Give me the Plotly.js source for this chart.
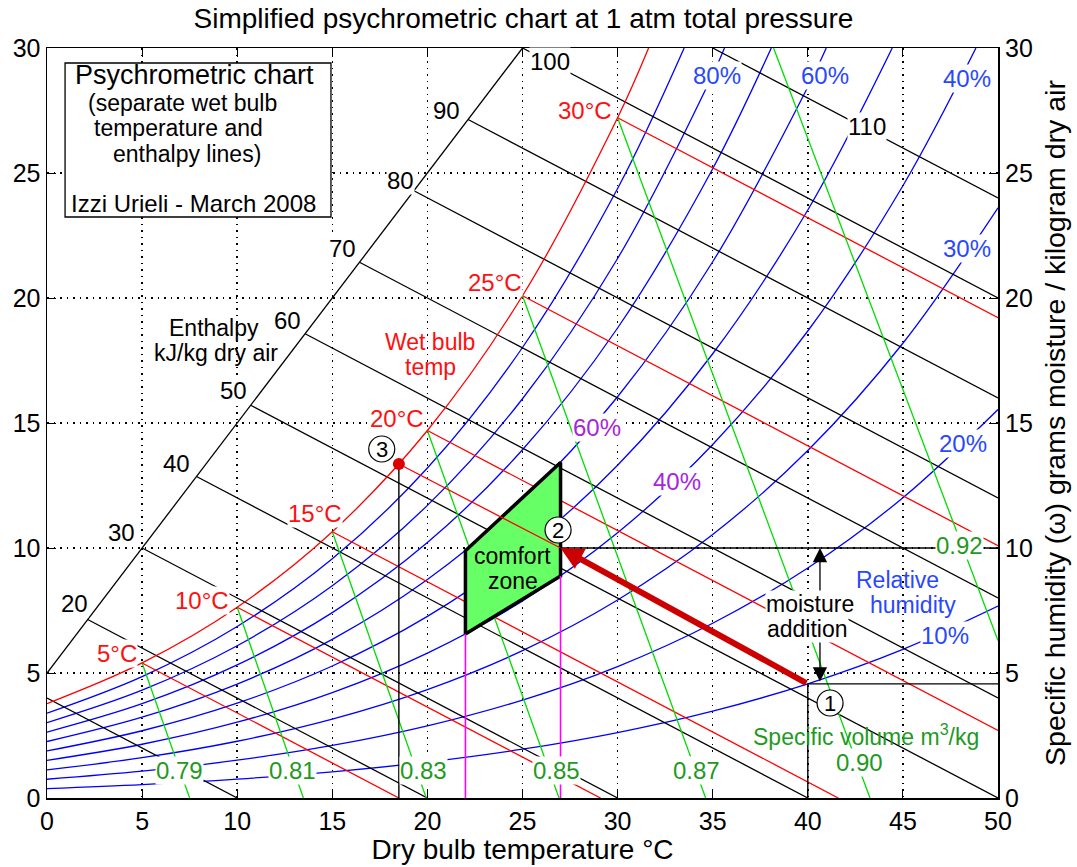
<!DOCTYPE html>
<html><head><meta charset="utf-8">
<script src="https://cdn.plot.ly/plotly-3.0.1.min.js"></script>
<style>html,body{margin:0;padding:0;background:#fff}#chart{width:1077px;height:867px}</style>
</head><body><div id="chart"></div>
<script>
// ---------- data ----------
const tickVals = [0,5,10,15,20,25,30,35,40,45,50];
const wTicks = [0,5,10,15,20,25,30];
const tdb = [0,5,10,15,20,25,30,35,40,45,50];

// saturation curve (100% RH)
const satT = [0,5,10,15,20,25,30,31.63];
const satW = [3.775,5.403,7.632,10.65,14.70,20.09,27.21,30];
// relative humidity curves (g/kg)
const rh90T = [0,5,10,15,20,25,30,33.5];
const rh90W = [3.395,4.858,6.861,9.568,13.198,18.02,24.38,30];
const rh80T = [0,5,10,15,20,25,30,35,35.62];
const rh80W = [3.016,4.315,6.091,8.491,11.704,15.97,21.58,28.93,30];
const rh70T = [0,5,10,15,20,25,30,35,38.08];
const rh70W = [2.637,3.772,5.323,7.417,10.217,13.93,18.80,25.17,30];
const rh60T = [0,5,10,15,20,25,30,35,40,40.97];
const rh60W = [2.259,3.231,4.557,6.347,8.737,11.90,16.05,21.45,28.44,30];
const rh50T = [0,5,10,15,20,25,30,35,40,44.44];
const rh50W = [1.882,2.690,3.793,5.280,7.264,9.884,13.31,17.77,23.52,30];
const rh40T = [0,5,10,15,20,25,30,35,40,45,48.84];
const rh40W = [1.505,2.150,3.031,4.217,5.798,7.882,10.61,14.14,18.68,24.49,30];
const rh30W = [1.128,1.611,2.270,3.157,4.338,5.893,7.921,10.54,13.90,18.19,23.61];
const rh20W = [0.751,1.073,1.511,2.101,2.885,3.916,5.258,6.989,9.201,12.01,15.54];
const rh10W = [0.375,0.536,0.755,1.049,1.439,1.952,2.618,3.475,4.567,5.946,7.676];

// enthalpy scale line and constant-enthalpy lines (kJ/kg dry air)
const hScaleT = [0,25];
const hScaleW = [5,30];
const hVals = [10,20,30,40,50,60,70,80,90,100,110];
const hT0 = [0,2.14,5,7.86,10.71,13.57,16.43,19.29,22.14,25,35];
const hW0 = [4.0,7.14,10,12.86,15.71,18.57,21.43,24.29,27.14,30,30];
const hT1 = [10,20,30,40,50,50,50,50,50,50,50];
const hW1 = [0,0,0,0,0,4,8,12,16,20,24];

// wet bulb temperature lines
const wbVals = [5,10,15,20,25,30];
const wbW0 = [5.40,7.63,10.65,14.70,20.09,27.21];
const wbT1 = [18.5,29.1,41.6,50,50,50];
const wbW1 = [0,0,0,2.70,10.09,19.21];

// specific volume lines (m3/kg)
const vLabels = ['0.79','0.81','0.83','0.85','0.87','0.90','0.92'];
const vT0 = [5,10,15,20,25,30,38.2];
const vW0 = [5.40,7.63,10.65,14.70,20.09,27.21,30];
const vT1 = [7.5,13.48,19.94,26.92,34.63,43.27,50];
const vW1 = [0,0,0,0,0,0,6.3];

// comfort zone and process states
const comfortT = [22,22,27,27,22];
const comfortW = [6.56,9.89,13.42,8.88,6.56];
const stateT = [40,27,18.5];
const stateW = [4.567,10,13.36];

// ---------- drawing ----------
const FONT = 'Liberation Sans, Arial, Helvetica, sans-serif';
const BLUE='#0000ff', RED='#ff0000', GREEN='#00dd00', BLACK='#000000';
const TBLUE='#2848ff', TGREEN='#1f9a1f', TRED='#ff1010', PURPLE='#a526dc', MAG='#ff00ff';
const LW = 1.3;

function ln(x, y, color, width, shape){
  return {type:'scatter', mode:'lines', x:x, y:y, line:{color:color, width:width||LW, shape:shape||'linear', smoothing:1},
          hoverinfo:'skip', showlegend:false};
}
const traces = [];
// RH curves
[[rh90T,rh90W],[rh80T,rh80W],[rh70T,rh70W],[rh60T,rh60W],[rh50T,rh50W],[rh40T,rh40W],
 [tdb,rh30W],[tdb,rh20W],[tdb,rh10W]].forEach(c=>traces.push(ln(c[0],c[1],BLUE,LW,'spline')));
// enthalpy
traces.push(ln(hScaleT,hScaleW,BLACK));
hVals.forEach((h,i)=>traces.push(ln([hT0[i],hT1[i]],[hW0[i],hW1[i]],BLACK)));
// wet bulb
wbVals.forEach((t,i)=>traces.push(ln([t,wbT1[i]],[wbW0[i],wbW1[i]],RED)));
// specific volume
vLabels.forEach((v,i)=>traces.push(ln([vT0[i],vT1[i]],[vW0[i],vW1[i]],GREEN)));
// saturation
traces.push(ln(satT,satW,RED,LW,'spline'));
// comfort zone
traces.push({type:'scatter', mode:'lines', x:comfortT, y:comfortW, fill:'toself', fillcolor:'#66ff66',
  line:{color:BLACK,width:3.5}, hoverinfo:'skip', showlegend:false});
// process lines
traces.push(ln([stateT[2],stateT[1]],[stateW[2],stateW[1]],RED));
traces.push(ln([comfortT[0],comfortT[0]],[0,comfortW[0]],MAG,1.6));
traces.push(ln([comfortT[3],comfortT[3]],[0,comfortW[3]],MAG,1.6));
traces.push(ln([stateT[2],stateT[2]],[0,stateW[2]],BLACK,1.4));
traces.push(ln([stateT[0],stateT[0]],[0,stateW[0]],BLACK,1.4));
traces.push(ln([stateT[0],50],[stateW[0],stateW[0]],BLACK,1.4));
traces.push(ln([stateT[1],50],[stateW[1],stateW[1]],BLACK,1.4));
traces.push({type:'scatter', mode:'markers', x:[stateT[2]], y:[stateW[2]], marker:{color:'#dd0000',size:12},
  hoverinfo:'skip', showlegend:false});
traces.push({type:'scatter', mode:'markers', x:[0], y:[0], yaxis:'y2', marker:{opacity:0}, hoverinfo:'skip', showlegend:false});

const anns = [];
function lab(text,x,y,color,size,bg,xa){
  anns.push({x:x,y:y,xref:'x',yref:'y',text:text,showarrow:false,xanchor:xa||'center',yanchor:'middle',
    font:{family:FONT,size:size,color:color},bgcolor:bg?'#ffffff':'rgba(0,0,0,0)',borderpad:0});
}
// arrows first (so labels with white background sit on top)
anns.push({x:stateT[1],y:stateW[1],ax:stateT[0],ay:stateW[0],xref:'x',yref:'y',axref:'x',ayref:'y',text:'',
  showarrow:true,arrowhead:2,arrowsize:0.75,arrowwidth:6,arrowcolor:'#cc0000',standoff:0,startstandoff:0});
anns.push({x:40.64,y:10,ax:40.64,ay:4.6,xref:'x',yref:'y',axref:'x',ayref:'y',text:'',
  showarrow:true,arrowhead:2,startarrowhead:2,arrowside:'end+start',arrowsize:2.2,startarrowsize:2.2,arrowwidth:1.3,arrowcolor:BLACK,standoff:0,startstandoff:0});

// enthalpy labels
const hLabelPos = [[1.42,7.8],[3.94,10.64],[6.83,13.4],[9.78,16.32],[12.62,19.12],[15.51,22.0],[18.56,24.72],[21.03,27.52],[26.45,29.45],[43.11,26.88]];
hVals.slice(1).forEach((h,i)=>lab(String(h),hLabelPos[i][0],hLabelPos[i][1],BLACK,24,true));
lab('Enthalpy',8.8,18.8,BLACK,23,false);
lab('kJ/kg dry air',8.9,17.8,BLACK,23,false);
// wet bulb labels
const wbLabelPos = [[3.68,5.8],[8.15,7.92],[14.09,11.4],[18.4,15.2],[23.55,20.64],[28.29,27.52]];
wbVals.forEach((t,i)=>lab(t+'°C',wbLabelPos[i][0],wbLabelPos[i][1],TRED,24,true));
lab('Wet bulb',20.14,18.24,TRED,23,false);
lab('temp',20.14,17.24,TRED,23,false);
// RH labels
const rhLabels = ['80%','60%','40%','30%','20%','10%'];
const rhLabelPos = [[35.23,28.92],[40.9,28.92],[48.37,28.8],[48.37,22.0],[48.16,14.2],[47.21,6.52]];
rhLabels.forEach((r,i)=>lab(r,rhLabelPos[i][0],rhLabelPos[i][1],TBLUE,24,true));
lab('Relative',44.69,8.74,TBLUE,23,false);
lab('humidity',45.53,7.72,TBLUE,23,false);
// specific volume labels
const vLabelPos = [[6.99,1.12],[12.93,1.12],[19.77,1.12],[26.81,1.12],[34.17,1.12],[42.74,1.44],[48.0,10.12]];
vLabels.forEach((v,i)=>lab(v,vLabelPos[i][0],vLabelPos[i][1],TGREEN,24,true));
lab('Specific volume m<sup>3</sup>/kg',43.06,2.52,TGREEN,23,false);
// comfort zone labels
lab('60%',28.92,14.84,PURPLE,24,true);
lab('40%',33.12,12.68,PURPLE,24,true);
lab('comfort',24.5,9.7,BLACK,23,false);
lab('zone',24.5,8.68,BLACK,23,false);
lab('moisture',40.12,7.78,BLACK,23,true);
lab('addition',39.96,6.76,BLACK,23,true);
lab('18.5',18.03,-0.72,PURPLE,25,false);
lab('22',21.87,-0.72,PURPLE,25,false);
lab('27',26.97,-0.72,PURPLE,25,false);
// state numbers
const circPos = [[41.17,3.8],[26.87,10.72],[17.6,13.96]];
circPos.forEach((p,i)=>lab(String(i+1),p[0],p[1],BLACK,22,false));
// info box
lab('Psychrometric chart',7.78,28.94,BLACK,27,false);
lab('(separate wet bulb',7.10,27.80,BLACK,23,false);
lab('temperature and',6.89,26.79,BLACK,23,false);
lab('enthalpy lines)',7.36,25.78,BLACK,23,false);
lab('Izzi Urieli - March 2008',7.68,23.8,BLACK,24,false);

const shapes = [
  {type:'rect',xref:'x',yref:'y',x0:0.95,x1:14.93,y0:23.24,y1:29.4,fillcolor:'#ffffff',line:{color:BLACK,width:1.3},layer:'above'}
];
circPos.forEach(p=>shapes.push({type:'circle',xref:'x',yref:'y',xsizemode:'pixel',ysizemode:'pixel',
  xanchor:p[0],yanchor:p[1],x0:-13,x1:13,y0:-13,y1:13,fillcolor:'#ffffff',line:{color:BLACK,width:1.2},layer:'above'}));

const axisCommon = {showline:true, linecolor:BLACK, linewidth:1.5, ticks:'inside', ticklen:9, tickcolor:BLACK,
  zeroline:false, tickfont:{family:FONT,size:25,color:BLACK}};
const layout = {
  width:1077, height:867,
  margin:{l:47,r:79,t:48,b:69,pad:0},
  paper_bgcolor:'#ffffff', plot_bgcolor:'#ffffff',
  font:{family:FONT,color:BLACK},
  title:{text:'Simplified psychrometric chart at 1 atm total pressure', font:{family:FONT,size:28,color:BLACK},
         x:0.486, xanchor:'center', y:0.979, yanchor:'middle'},
  xaxis:Object.assign({}, axisCommon, {range:[0,50], tickvals:tickVals, mirror:'ticks',
    showgrid:true, gridcolor:BLACK, gridwidth:1.5, griddash:'1.5px,5px',
    title:{text:'Dry bulb temperature °C', font:{family:FONT,size:28,color:BLACK}, standoff:6}}),
  yaxis:Object.assign({}, axisCommon, {range:[0,30], tickvals:wTicks, mirror:true,
    showgrid:true, gridcolor:BLACK, gridwidth:1.5, griddash:'1.5px,5px'}),
  yaxis2:Object.assign({}, axisCommon, {range:[0,30], tickvals:wTicks, overlaying:'y', side:'right', showline:false,
    ticklabelstandoff:6,
    showgrid:false, title:{text:'Specific humidity (ω) grams moisture / kilogram dry air', font:{family:FONT,size:28.5,color:BLACK}, standoff:13}}),
  annotations:anns, shapes:shapes, showlegend:false
};
Plotly.newPlot('chart', traces, layout, {staticPlot:true, displayModeBar:false});
</script></body></html>
